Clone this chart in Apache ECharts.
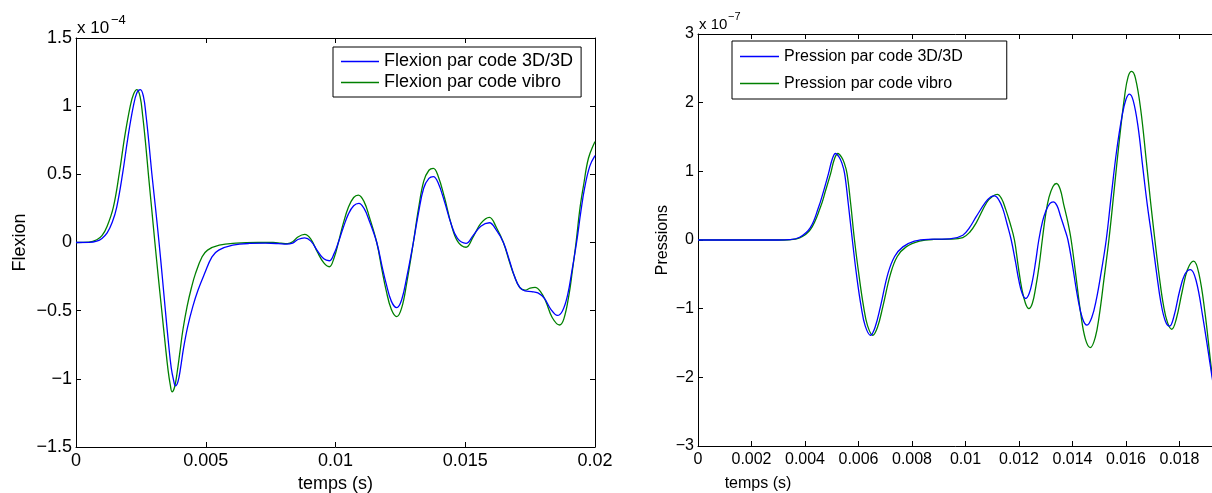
<!DOCTYPE html>
<html><head><meta charset="utf-8">
<script src="https://cdn.jsdelivr.net/npm/echarts@6/dist/echarts.min.js"></script>
<style>html,body{margin:0;padding:0;background:#fff}#c{width:1212px;height:493px}</style>
</head><body><div id="c"></div>
<script>
const FONT = '"Liberation Sans", Arial, Helvetica, sans-serif';

// ---- names / labels ----
const leftNames = ['Flexion par code 3D/3D', 'Flexion par code vibro'];
const rightNames = ['Pression par code 3D/3D', 'Pression par code vibro'];
const leftYName = 'Flexion';
const rightYName = 'Pressions';
const xName = 'temps (s)';
const leftExp = ['x 10', '\u22124'];
const rightExp = ['x 10', '\u22127'];

// tick labels (x axis in ms internally, labels in s)
const leftXTicks = ['0', '0.005', '0.01', '0.015', '0.02'];
const leftYTicks = ['\u22121.5', '\u22121', '\u22120.5', '0', '0.5', '1', '1.5'];
const rightXTicks = ['0', '0.002', '0.004', '0.006', '0.008', '0.01', '0.012', '0.014', '0.016', '0.018', '0.02'];
const rightYTicks = ['\u22123', '\u22122', '\u22121', '0', '1', '2', '3'];

// ---- left plot data (time in ms, flexion in 1e-4) ----
const leftBlueT = [0, 0.5, 0.8, 1.0, 1.2, 1.4, 1.57, 1.8, 2.0, 2.21, 2.35, 2.48, 2.6, 2.7, 2.81, 2.92, 3.06, 3.2, 3.32, 3.44, 3.56, 3.67, 3.76, 3.83, 3.93, 4.03, 4.14, 4.3, 4.5, 4.7, 4.95, 5.24, 5.5, 6.04, 6.68, 7.3, 7.8, 8.1, 8.35, 8.55, 8.81, 9.05, 9.3, 9.55, 9.76, 9.95, 10.11, 10.3, 10.5, 10.7, 10.9, 11.1, 11.3, 11.59, 11.8, 11.95, 12.15, 12.36, 12.55, 12.75, 13.0, 13.2, 13.4, 13.6, 13.77, 13.95, 14.2, 14.45, 14.7, 15.03, 15.3, 15.6, 15.93, 16.2, 16.47, 16.7, 16.9, 17.1, 17.3, 17.55, 17.8, 18.05, 18.3, 18.55, 18.75, 18.95, 19.1, 19.29, 19.45, 19.6, 19.8, 20.0];
const leftBlueV = [0, 0.001, 0.01, 0.03, 0.07, 0.15, 0.26, 0.51, 0.77, 1.0, 1.10, 1.122, 1.07, 0.93, 0.73, 0.51, 0.26, 0, -0.24, -0.49, -0.73, -0.92, -1.01, -1.051, -1.02, -0.92, -0.78, -0.62, -0.47, -0.35, -0.23, -0.105, -0.056, -0.02, -0.007, -0.005, -0.008, -0.012, -0.004, 0.022, 0.034, 0.01, -0.06, -0.12, -0.134, -0.08, 0, 0.11, 0.21, 0.27, 0.287, 0.25, 0.16, 0, -0.18, -0.30, -0.43, -0.478, -0.42, -0.25, 0, 0.22, 0.40, 0.47, 0.483, 0.44, 0.30, 0.14, 0.03, -0.006, 0.05, 0.12, 0.145, 0.09, 0, -0.13, -0.25, -0.33, -0.355, -0.36, -0.37, -0.41, -0.49, -0.535, -0.50, -0.38, -0.22, 0, 0.22, 0.40, 0.56, 0.637];
const leftGreenT = [0, 0.5, 0.8, 1.0, 1.2, 1.44, 1.67, 1.88, 2.09, 2.22, 2.35, 2.47, 2.57, 2.68, 2.79, 2.91, 3.04, 3.17, 3.31, 3.44, 3.55, 3.63, 3.7, 3.8, 3.9, 4.0, 4.12, 4.28, 4.45, 4.6, 4.86, 5.07, 5.52, 6.17, 7.0, 7.6, 7.9, 8.15, 8.35, 8.55, 8.81, 9.05, 9.3, 9.55, 9.76, 9.95, 10.11, 10.3, 10.5, 10.7, 10.88, 11.1, 11.3, 11.59, 11.8, 11.95, 12.15, 12.36, 12.55, 12.75, 13.0, 13.2, 13.4, 13.6, 13.77, 13.95, 14.2, 14.45, 14.7, 15.03, 15.3, 15.6, 15.93, 16.2, 16.47, 16.7, 16.9, 17.1, 17.3, 17.5, 17.69, 17.9, 18.1, 18.35, 18.63, 18.8, 19.0, 19.12, 19.27, 19.42, 19.56, 19.75, 20.0];
const leftGreenV = [0, 0.003, 0.02, 0.05, 0.12, 0.26, 0.51, 0.78, 1.0, 1.09, 1.122, 1.07, 0.93, 0.73, 0.50, 0.26, 0, -0.25, -0.51, -0.75, -0.94, -1.04, -1.095, -1.06, -0.95, -0.81, -0.64, -0.47, -0.33, -0.23, -0.105, -0.056, -0.02, -0.005, 0.0, 0.0, -0.005, -0.008, 0.005, 0.04, 0.059, 0.025, -0.07, -0.15, -0.178, -0.11, 0, 0.14, 0.26, 0.33, 0.348, 0.30, 0.19, 0, -0.21, -0.35, -0.49, -0.544, -0.48, -0.29, 0, 0.25, 0.45, 0.53, 0.544, 0.49, 0.33, 0.14, 0.01, -0.035, 0.04, 0.14, 0.185, 0.11, 0, -0.14, -0.25, -0.33, -0.35, -0.335, -0.329, -0.36, -0.43, -0.55, -0.605, -0.56, -0.38, -0.22, 0, 0.25, 0.42, 0.62, 0.74];

// ---- right plot data (time in ms, pressure in 1e-7) ----
const rightBlueT = [0, 1.5, 3.0, 3.4, 3.8, 4.2, 4.51, 4.7, 4.88, 5.02, 5.14, 5.27, 5.38, 5.48, 5.62, 5.77, 5.93, 6.1, 6.25, 6.45, 6.62, 6.82, 7.1, 7.35, 7.66, 8.09, 8.6, 9.0, 9.41, 9.9, 10.15, 10.4, 10.75, 10.95, 11.09, 11.25, 11.4, 11.55, 11.71, 11.87, 12.0, 12.12, 12.25, 12.38, 12.5, 12.62, 12.74, 12.88, 13.0, 13.15, 13.28, 13.42, 13.55, 13.7, 13.83, 14.0, 14.2, 14.37, 14.54, 14.72, 14.9, 15.08, 15.26, 15.45, 15.65, 15.85, 16.0, 16.13, 16.27, 16.45, 16.63, 16.8, 16.98, 17.15, 17.3, 17.47, 17.63, 17.8, 18.0, 18.2, 18.41, 18.62, 18.87, 19.2, 19.3];
const rightBlueV = [0, 0, 0, 0.005, 0.04, 0.18, 0.48, 0.72, 0.97, 1.18, 1.26, 1.21, 1.12, 0.97, 0.52, 0, -0.52, -0.97, -1.25, -1.387, -1.27, -0.97, -0.49, -0.24, -0.10, -0.017, 0.01, 0.012, 0.015, 0.07, 0.18, 0.34, 0.55, 0.63, 0.643, 0.58, 0.45, 0.24, 0, -0.32, -0.6, -0.78, -0.852, -0.78, -0.6, -0.32, 0, 0.27, 0.42, 0.53, 0.556, 0.50, 0.35, 0.17, 0, -0.37, -0.85, -1.14, -1.241, -1.13, -0.85, -0.45, 0, 0.65, 1.3, 1.8, 2.05, 2.125, 2.03, 1.65, 1.05, 0.5, 0, -0.5, -0.9, -1.18, -1.255, -1.1, -0.75, -0.5, -0.43, -0.59, -1.12, -1.95, -2.2];
const rightGreenT = [0, 1.5, 3.0, 3.4, 3.8, 4.2, 4.58, 4.77, 4.96, 5.1, 5.23, 5.36, 5.47, 5.57, 5.71, 5.85, 6.02, 6.19, 6.34, 6.53, 6.71, 6.91, 7.2, 7.45, 7.78, 8.28, 8.8, 9.41, 9.9, 10.15, 10.4, 10.8, 11.03, 11.19, 11.35, 11.5, 11.67, 11.83, 11.97, 12.1, 12.24, 12.37, 12.5, 12.62, 12.75, 12.87, 13.0, 13.12, 13.27, 13.4, 13.54, 13.67, 13.82, 13.95, 14.12, 14.3, 14.48, 14.67, 14.85, 15.0, 15.18, 15.36, 15.55, 15.75, 15.95, 16.08, 16.21, 16.35, 16.55, 16.76, 16.92, 17.08, 17.25, 17.4, 17.55, 17.71, 17.88, 18.1, 18.3, 18.53, 18.72, 18.95, 19.2, 19.3];
const rightGreenV = [0, 0, 0, 0.003, 0.03, 0.15, 0.48, 0.72, 0.97, 1.18, 1.26, 1.21, 1.12, 0.97, 0.52, 0, -0.52, -0.97, -1.25, -1.387, -1.27, -0.97, -0.49, -0.24, -0.10, -0.017, 0.008, 0.012, 0.036, 0.11, 0.25, 0.55, 0.64, 0.663, 0.60, 0.45, 0.24, 0, -0.38, -0.7, -0.92, -0.998, -0.92, -0.7, -0.38, 0, 0.38, 0.62, 0.78, 0.823, 0.74, 0.52, 0.27, 0, -0.5, -1.05, -1.44, -1.566, -1.42, -1.1, -0.56, 0, 0.7, 1.45, 2.1, 2.38, 2.455, 2.36, 1.9, 1.15, 0.55, 0, -0.55, -0.95, -1.2, -1.30, -1.15, -0.75, -0.43, -0.308, -0.48, -1.05, -1.9, -2.15];

const BLUE = '#0000ff', GREEN = '#008000';
const zip = (t, v) => t.map((x, i) => [x, v[i]]);
const fmt = (labels, min, step) => (val) => labels[Math.round((val - min) / step)] ?? '';

const tick = { show: true, inside: true, length: 5, lineStyle: { color: '#000', width: 1 } };
const line = { show: true, onZero: false, lineStyle: { color: '#000', width: 1 } };

function xAx(grid, pos, min, max, step, labels, fs, show, margin) {
  return {
    type: 'value', gridIndex: grid, position: pos, min, max, interval: step,
    axisLine: line, axisTick: tick, splitLine: { show: false },
    axisLabel: { show, color: '#000', fontFamily: FONT, fontSize: fs, margin, formatter: fmt(labels, min, step), showMinLabel: true, showMaxLabel: true, hideOverlap: false }
  };
}
function yAx(grid, pos, min, max, step, labels, fs, show, name, gap) {
  return {
    type: 'value', gridIndex: grid, position: pos, min, max, interval: step,
    name: name || '', nameLocation: 'middle', nameGap: gap || 0, nameRotate: 90,
    nameTextStyle: { color: '#000', fontFamily: FONT, fontSize: fs },
    axisLine: line, axisTick: tick, splitLine: { show: false },
    axisLabel: { show, color: '#000', fontFamily: FONT, fontSize: fs, margin: 4, formatter: fmt(labels, min, step), showMinLabel: true, showMaxLabel: true, hideOverlap: false }
  };
}

const leftX = xAx(0, 'bottom', 0, 20, 5, leftXTicks, 18, true, 5);
leftX.name = xName; leftX.nameLocation = 'middle'; leftX.nameGap = 24;
leftX.nameTextStyle = { color: '#000', fontFamily: FONT, fontSize: 18 };

const legendBase = {
  orient: 'vertical', itemGap: 0, icon: 'rect', itemHeight: 1.5,
  backgroundColor: '#fff', borderColor: '#000', borderWidth: 1, borderRadius: 0
};

const option = {
  animation: false,
  backgroundColor: '#fff',
  grid: [
    { left: 76, top: 38, width: 519, height: 409, containLabel: false, outerBoundsMode: 'none' },
    { left: 698, top: 34, width: 535, height: 412, containLabel: false, outerBoundsMode: 'none' }
  ],
  xAxis: [
    leftX,
    xAx(0, 'top', 0, 20, 5, leftXTicks, 18, false, 5),
    xAx(1, 'bottom', 0, 20, 2, rightXTicks, 16, true, 6),
    xAx(1, 'top', 0, 20, 2, rightXTicks, 16, false, 6)
  ],
  yAxis: [
    yAx(0, 'left', -1.5, 1.5, 0.5, leftYTicks, 18, true, leftYName, 47),
    yAx(0, 'right', -1.5, 1.5, 0.5, leftYTicks, 18, false),
    yAx(1, 'left', -3, 3, 1, rightYTicks, 16, true, rightYName, 27)
  ],
  legend: [
    Object.assign({}, legendBase, {
      data: leftNames, left: 333, top: 47,
      padding: [4, 8, 4, 8], itemWidth: 38,
      textStyle: { color: '#000', fontFamily: FONT, fontSize: 18, lineHeight: 21 }
    }),
    Object.assign({}, legendBase, {
      data: rightNames, left: 732, top: 41,
      padding: [2, 44, 2, 8], itemWidth: 39,
      textStyle: { color: '#000', fontFamily: FONT, fontSize: 16, lineHeight: 27 }
    })
  ],
  graphic: [
    { type: 'text', x: 77, y: 28, style: { text: leftExp[0], font: '17px ' + FONT, fill: '#000', textAlign: 'left', textVerticalAlign: 'middle' } },
    { type: 'text', x: 111, y: 20, style: { text: leftExp[1], font: '13px ' + FONT, fill: '#000', textAlign: 'left', textVerticalAlign: 'middle' } },
    { type: 'text', x: 699, y: 25, style: { text: rightExp[0], font: '15px ' + FONT, fill: '#000', textAlign: 'left', textVerticalAlign: 'middle' } },
    { type: 'text', x: 728, y: 17, style: { text: rightExp[1], font: '11px ' + FONT, fill: '#000', textAlign: 'left', textVerticalAlign: 'middle' } },
    { type: 'text', x: 758, y: 484, style: { text: xName, font: '16px ' + FONT, fill: '#000', textAlign: 'center', textVerticalAlign: 'middle' } }
  ],
  series: [
    { name: leftNames[0], type: 'line', xAxisIndex: 0, yAxisIndex: 0, data: zip(leftBlueT, leftBlueV), symbol: 'none', smooth: 0.4, lineStyle: { color: BLUE, width: 1.3 }, itemStyle: { color: BLUE }, z: 3 },
    { name: leftNames[1], type: 'line', xAxisIndex: 0, yAxisIndex: 0, data: zip(leftGreenT, leftGreenV), symbol: 'none', smooth: 0.4, lineStyle: { color: GREEN, width: 1.3 }, itemStyle: { color: GREEN }, z: 2 },
    { name: rightNames[0], type: 'line', xAxisIndex: 2, yAxisIndex: 2, data: zip(rightBlueT, rightBlueV), symbol: 'none', smooth: 0.4, lineStyle: { color: BLUE, width: 1.3 }, itemStyle: { color: BLUE }, z: 3 },
    { name: rightNames[1], type: 'line', xAxisIndex: 2, yAxisIndex: 2, data: zip(rightGreenT, rightGreenV), symbol: 'none', smooth: 0.4, lineStyle: { color: GREEN, width: 1.3 }, itemStyle: { color: GREEN }, z: 2 }
  ]
};
const chart = echarts.init(document.getElementById('c'), null, { renderer: 'canvas' });
chart.setOption(option);
</script></body></html>
